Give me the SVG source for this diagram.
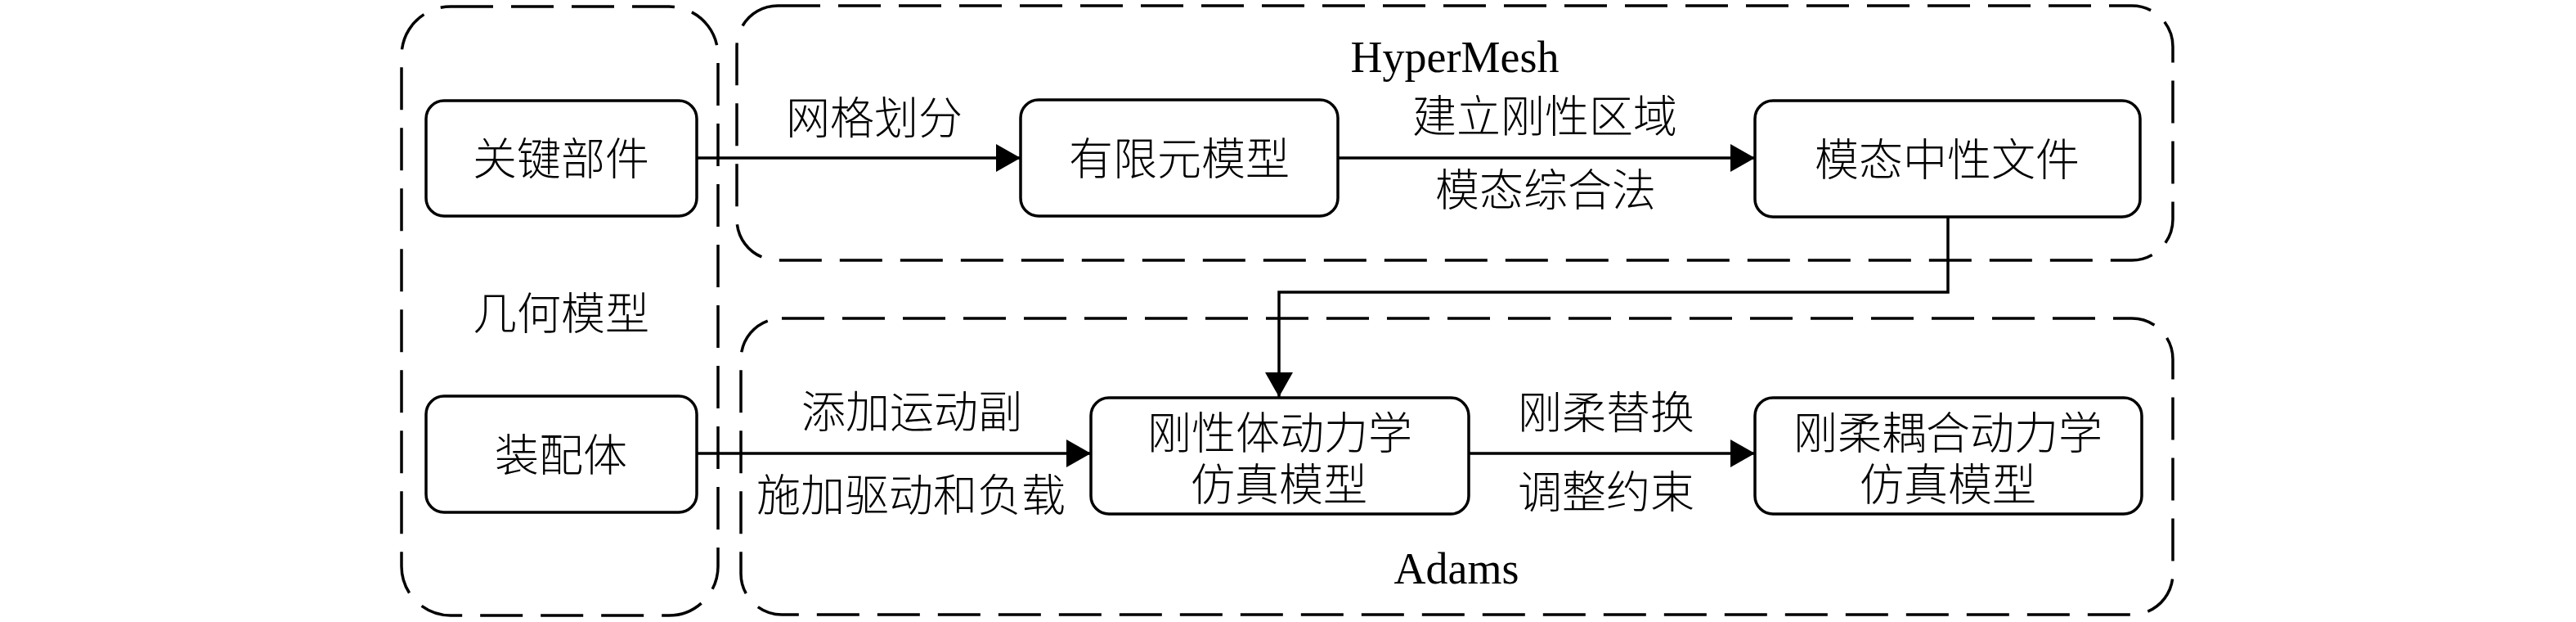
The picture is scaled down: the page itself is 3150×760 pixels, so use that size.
<svg xmlns="http://www.w3.org/2000/svg" width="3150" height="760" viewBox="0 0 3150 760">
<style>
.grp{fill:none;stroke:#000;stroke-width:3.5;stroke-dasharray:52 22}
.node{fill:#fff;stroke:#000;stroke-width:3.5}
.conn{fill:none;stroke:#000;stroke-width:3.5}
.cn{font-family:"Liberation Serif","Noto Sans CJK SC",serif;font-size:54px;font-weight:300;fill:#000;text-anchor:middle}
.en{font-family:"Liberation Serif",serif;font-size:54px;fill:#000;text-anchor:middle}
</style>
<defs>
<marker id="arr" markerUnits="userSpaceOnUse" markerWidth="32" markerHeight="34" refX="30" refY="17" orient="auto">
<path d="M0,0 L30,17 L0,34 Z" fill="#000"/>
</marker>
</defs>
<rect width="3150" height="760" fill="#fff"/>
<g id="groups">
<rect id="g-geom" class="grp" x="491" y="8" width="387" height="744" rx="60" ry="60"/>
<rect id="g-hypermesh" class="grp" x="901" y="7" width="1756" height="311" rx="50" ry="50"/>
<rect id="g-adams" class="grp" x="906" y="389" width="1751" height="362" rx="50" ry="50"/>
<text class="cn" x="686" y="403">几何模型</text>
<text class="en" x="1779" y="88">HyperMesh</text>
<text class="en" x="1781" y="713">Adams</text>
</g>
<g id="connectors">
<line class="conn" x1="852" y1="193" x2="1248" y2="193" marker-end="url(#arr)"/>
<line class="conn" x1="1636" y1="193" x2="2146" y2="193" marker-end="url(#arr)"/>
<polyline class="conn" points="2382,265 2382,357 1564,357 1564,485" marker-end="url(#arr)"/>
<line class="conn" x1="852" y1="554" x2="1334" y2="554" marker-end="url(#arr)"/>
<line class="conn" x1="1796" y1="554" x2="2146" y2="554" marker-end="url(#arr)"/>
<text class="cn" x="1069" y="164">网格划分</text>
<text class="cn" x="1889" y="162">建立刚性区域</text>
<text class="cn" x="1890" y="252">模态综合法</text>
<text class="cn" x="1115" y="523">添加运动副</text>
<text class="cn" x="1114" y="625">施加驱动和负载</text>
<text class="cn" x="1964" y="524">刚柔替换</text>
<text class="cn" x="1964" y="621">调整约束</text>
</g>
<g id="n-key">
<rect class="node" x="521" y="123" width="331" height="141" rx="22" ry="22"/>
<text class="cn" x="686" y="214">关键部件</text>
</g>
<g id="n-fem">
<rect class="node" x="1248" y="122" width="388" height="142" rx="22" ry="22"/>
<text class="cn" x="1442" y="214">有限元模型</text>
</g>
<g id="n-modal">
<rect class="node" x="2146" y="123" width="471" height="142" rx="22" ry="22"/>
<text class="cn" x="2381" y="215">模态中性文件</text>
</g>
<g id="n-asm">
<rect class="node" x="521" y="484" width="331" height="142" rx="22" ry="22"/>
<text class="cn" x="686" y="576">装配体</text>
</g>
<g id="n-rigid">
<rect class="node" x="1334" y="486" width="462" height="142" rx="22" ry="22"/>
<text class="cn" x="1565" y="549">刚性体动力学</text>
<text class="cn" x="1564" y="612">仿真模型</text>
</g>
<g id="n-flex">
<rect class="node" x="2146" y="486" width="473" height="142" rx="22" ry="22"/>
<text class="cn" x="2382" y="549">刚柔耦合动力学</text>
<text class="cn" x="2382" y="612">仿真模型</text>
</g>
</svg>
